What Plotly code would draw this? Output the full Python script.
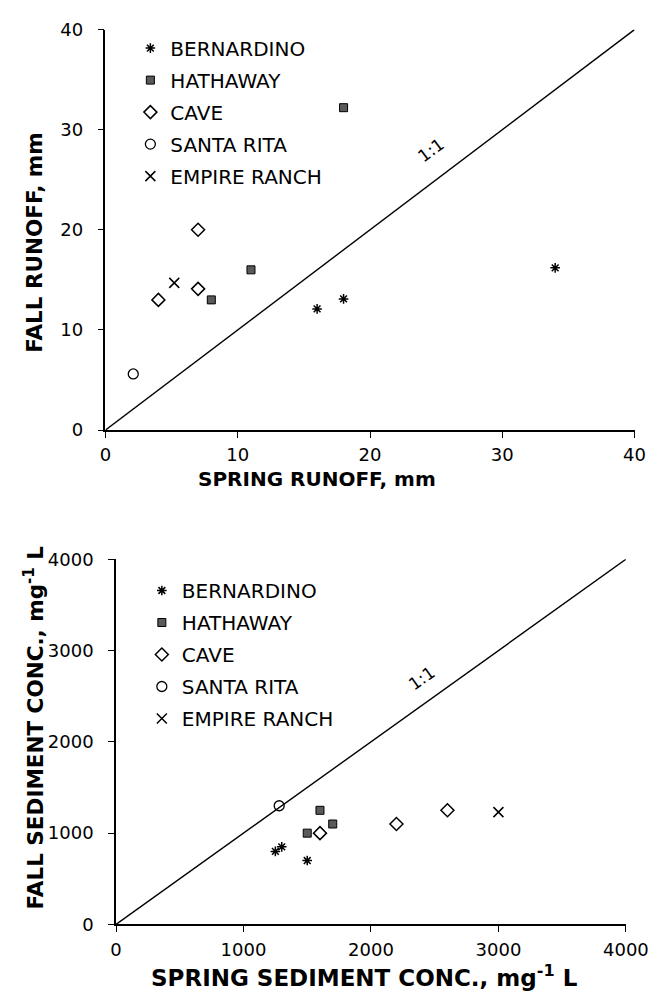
import plotly.graph_objects as go

# ---------------- data: top panel (runoff, mm) ----------------
bern_spring = [16.0, 18.0, 34.0]
bern_fall = [12.1, 13.1, 16.2]
hath_spring = [18.0, 11.0, 8.0]
hath_fall = [32.2, 16.0, 13.0]
cave_spring = [7.0, 7.0, 4.0]
cave_fall = [20.0, 14.1, 13.0]
srita_spring = [2.1]
srita_fall = [5.6]
empire_spring = [5.2]
empire_fall = [14.7]
runoff_range = [0, 40]
runoff_ticks = [0, 10, 20, 30, 40]

# ---------------- data: bottom panel (sediment conc.) ----------------
bern_sp_sed = [1250, 1300, 1500]
bern_fa_sed = [800, 850, 700]
hath_sp_sed = [1600, 1700, 1500]
hath_fa_sed = [1250, 1100, 1000]
cave_sp_sed = [1600, 2200, 2600]
cave_fa_sed = [1000, 1100, 1250]
srita_sp_sed = [1280]
srita_fa_sed = [1300]
empire_sp_sed = [3000]
empire_fa_sed = [1230]
sed_range = [0, 4000]
sed_ticks = [0, 1000, 2000, 3000, 4000]

sites = ["BERNARDINO", "HATHAWAY", "CAVE", "SANTA RITA", "EMPIRE RANCH"]

W, H = 669, 1001
FONT = "DejaVu Sans"

styles = {
    "BERNARDINO": dict(symbol="asterisk-open", size=8, color="black",
                       line=dict(color="black", width=1.5)),
    "HATHAWAY": dict(symbol="square", size=8, color="#5a5a5a",
                     line=dict(color="black", width=1)),
    "CAVE": dict(symbol="diamond-open", size=10, color="black",
                 line=dict(color="black", width=1.5)),
    "SANTA RITA": dict(symbol="circle-open", size=10, color="black",
                       line=dict(color="black", width=1.3)),
    "EMPIRE RANCH": dict(symbol="x-thin-open", size=10, color="black",
                         line=dict(color="black", width=1.5)),
}

fig = go.Figure()

top = [(bern_spring, bern_fall), (hath_spring, hath_fall), (cave_spring, cave_fall),
       (srita_spring, srita_fall), (empire_spring, empire_fall)]
bot = [(bern_sp_sed, bern_fa_sed), (hath_sp_sed, hath_fa_sed), (cave_sp_sed, cave_fa_sed),
       (srita_sp_sed, srita_fa_sed), (empire_sp_sed, empire_fa_sed)]

for name, (xs, ys) in zip(sites, top):
    fig.add_trace(go.Scatter(x=xs, y=ys, mode="markers", name=name, marker=styles[name],
                             xaxis="x", yaxis="y", legend="legend", legendgroup="t" + name))
for name, (xs, ys) in zip(sites, bot):
    fig.add_trace(go.Scatter(x=xs, y=ys, mode="markers", name=name, marker=styles[name],
                             xaxis="x2", yaxis="y2", legend="legend2", legendgroup="b" + name))

# 1:1 lines
fig.add_trace(go.Scatter(x=runoff_range, y=runoff_range, mode="lines", showlegend=False,
                         line=dict(color="black", width=1.4), xaxis="x", yaxis="y"))
fig.add_trace(go.Scatter(x=sed_range, y=sed_range, mode="lines", showlegend=False,
                         line=dict(color="black", width=1.4), xaxis="x2", yaxis="y2"))


def px_x(p):
    return p / W


def px_y(p):
    return 1 - p / H


axis_common = dict(showline=True, linecolor="black", linewidth=1.5, ticks="outside",
                   ticklen=6, tickwidth=1.3, tickcolor="black", showgrid=False,
                   zeroline=False, tickfont=dict(family=FONT, size=18, color="black"))

fig.update_layout(
    width=W, height=H, margin=dict(l=0, r=0, t=0, b=0),
    paper_bgcolor="white", plot_bgcolor="white",
    xaxis=dict(domain=[px_x(104), px_x(657)], range=runoff_range, tickvals=runoff_ticks,
               anchor="y", ticklabelstandoff=2, **axis_common),
    yaxis=dict(domain=[px_y(428), px_y(19)], range=runoff_range, tickvals=runoff_ticks,
               anchor="x", ticklabelstandoff=11, **axis_common),
    xaxis2=dict(domain=[px_x(115), px_x(648)], range=sed_range, tickvals=sed_ticks,
                anchor="y2", ticklabelstandoff=2, **axis_common),
    yaxis2=dict(domain=[px_y(933), px_y(560)], range=sed_range, tickvals=sed_ticks,
                anchor="x2", ticklabelstandoff=11, **axis_common),
    legend=dict(x=px_x(130), y=px_y(18), xanchor="left", yanchor="top",
                font=dict(family=FONT, size=20, color="black"), tracegroupgap=3,
                bgcolor="rgba(0,0,0,0)"),
    legend2=dict(x=px_x(142), y=px_y(572), xanchor="left", yanchor="top",
                 font=dict(family=FONT, size=20, color="black"), tracegroupgap=3,
                 bgcolor="rgba(0,0,0,0)"),
    showlegend=True,
)

ytitle_font = dict(family=FONT, size=21.5, color="black")
common_ann = dict(xref="paper", yref="paper", showarrow=False, xanchor="center",
                  yanchor="middle")
annotations = [
    dict(text="<b>FALL RUNOFF, mm</b>", x=px_x(29), y=px_y(237), textangle=-90,
         font=ytitle_font, **common_ann),
    dict(text="<b>SPRING RUNOFF, mm</b>", x=px_x(325), y=px_y(478),
         font=dict(family=FONT, size=20, color="black"), **common_ann),
    dict(text="<b>FALL SEDIMENT CONC., mg<sup>-1</sup> L</b>", x=px_x(29), y=px_y(732),
         textangle=-90, font=ytitle_font, **common_ann),
    dict(text="<b>SPRING SEDIMENT CONC., mg<sup>-1</sup> L</b>", x=px_x(375), y=px_y(986),
         font=dict(family=FONT, size=23, color="black"), **common_ann),
    dict(text="1:1", x=24.6, y=28.0, xref="x", yref="y", textangle=-36.5, showarrow=False,
         font=dict(family=FONT, size=17, color="black")),
    dict(text="1:1", x=2400, y=2700, xref="x2", yref="y2", textangle=-35, showarrow=False,
         font=dict(family=FONT, size=17, color="black")),
]
fig.update_layout(annotations=annotations)

fig.write_html("out.html")
